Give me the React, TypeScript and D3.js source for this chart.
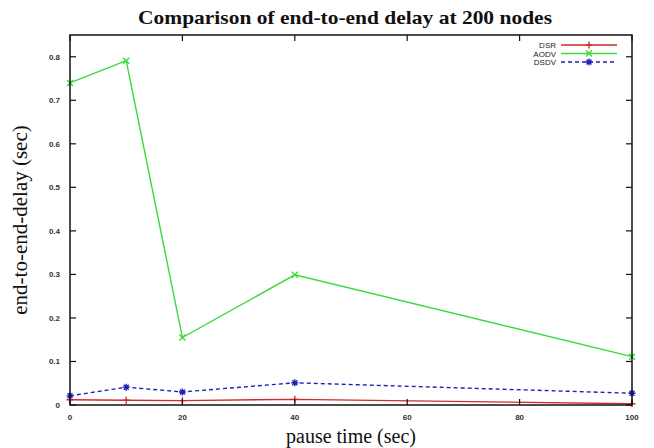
import React from 'react';
import { scaleLinear, line } from 'd3';

// pause times (sec) at which each protocol was measured
const pauseTimes = [0, 10, 20, 40, 100];
const dsrDelay = [0.012, 0.011, 0.01, 0.013, 0.003];
const aodvDelay = [0.74, 0.791, 0.155, 0.299, 0.111];
const dsdvDelay = [0.021, 0.041, 0.03, 0.051, 0.027];

const xTicks = [0, 20, 40, 60, 80, 100];
const yTicks = [0, 0.1, 0.2, 0.3, 0.4, 0.5, 0.6, 0.7, 0.8];
const seriesNames = ['DSR', 'AODV', 'DSDV'];

const width = 654;
const height = 448;
const margin = { top: 35, right: 22, bottom: 43, left: 70 };

const colors = ['#d42a2a', '#3ada3a', '#2222b8'];
const dashes = [null, null, '4,3'];
const markers = [
  'M-3.5,0H3.5M0,-3.5V3.5',
  'M-3,-3L3,3M-3,3L3,-3',
  'M-3.5,0H3.5M0,-3.5V3.5M-2.5,-2.5L2.5,2.5M-2.5,2.5L2.5,-2.5',
];

const App = () => {
  const xScale = scaleLinear()
    .domain([0, 100])
    .range([margin.left, width - margin.right]);
  const yScale = scaleLinear()
    .domain([0, 0.85])
    .range([height - margin.bottom, margin.top]);

  const lineFn = line<number>()
    .x((_, i) => xScale(pauseTimes[i]))
    .y((d) => yScale(d));

  const series = [dsrDelay, aodvDelay, dsdvDelay];
  const x0 = xScale(0);
  const x1 = xScale(100);
  const y0 = yScale(0);
  const y1 = yScale(0.85);
  const tickLen = 6;

  return (
    <svg
      width={width}
      height={height}
      style={{ position: 'absolute', left: 0, top: 0, background: '#fff' }}
    >
      <text
        x={345}
        y={24}
        textAnchor="middle"
        fontFamily="Liberation Serif"
        fontWeight="bold"
        fontSize={19}
        textLength={414}
        lengthAdjust="spacingAndGlyphs"
        fill="#111"
      >
        Comparison of end-to-end delay at 200 nodes
      </text>

      {/* data lines */}
      {series.map((s, k) => (
        <g key={seriesNames[k]}>
          <path
            d={lineFn(s) || ''}
            fill="none"
            stroke={colors[k]}
            strokeWidth={1.4}
            strokeDasharray={dashes[k] || undefined}
          />
          {s.map((v, i) => (
            <path
              key={i}
              d={markers[k]}
              transform={`translate(${xScale(pauseTimes[i])},${yScale(v)})`}
              stroke={colors[k]}
              strokeWidth={1.4}
              fill="none"
            />
          ))}
        </g>
      ))}

      {/* frame */}
      <rect
        x={x0}
        y={y1}
        width={x1 - x0}
        height={y0 - y1}
        fill="none"
        stroke="#111"
        strokeWidth={1.5}
      />

      {/* y ticks */}
      {yTicks.map((t) => (
        <g key={t}>
          <line x1={x0} x2={x0 + tickLen} y1={yScale(t)} y2={yScale(t)} stroke="#111" strokeWidth={1.2} />
          <line x1={x1} x2={x1 - tickLen} y1={yScale(t)} y2={yScale(t)} stroke="#111" strokeWidth={1.2} />
          <text
            x={x0 - 10}
            y={yScale(t) + 3}
            textAnchor="end"
            fontFamily="Liberation Sans"
            fontWeight="bold"
            fontSize={8}
            fill="#333"
          >
            {t === 0 ? '0' : t.toFixed(1)}
          </text>
        </g>
      ))}

      {/* x ticks */}
      {xTicks.map((t) => (
        <g key={t}>
          <line x1={xScale(t)} x2={xScale(t)} y1={y0} y2={y0 - tickLen} stroke="#111" strokeWidth={1.2} />
          <line x1={xScale(t)} x2={xScale(t)} y1={y1} y2={y1 + tickLen} stroke="#111" strokeWidth={1.2} />
          <text
            x={xScale(t)}
            y={y0 + 15}
            textAnchor="middle"
            fontFamily="Liberation Sans"
            fontWeight="bold"
            fontSize={8}
            fill="#333"
          >
            {t}
          </text>
        </g>
      ))}

      {/* axis titles */}
      <text
        x={351}
        y={height - 5}
        textAnchor="middle"
        fontFamily="Liberation Serif"
        fontSize={20}
        fill="#111"
      >
        pause time (sec)
      </text>
      <text
        transform={`translate(27,${(y0 + y1) / 2}) rotate(-90)`}
        textAnchor="middle"
        fontFamily="Liberation Serif"
        fontSize={21}
        fill="#111"
      >
        end-to-end-delay (sec)
      </text>

      {/* legend */}
      {seriesNames.map((name, k) => {
        const ly = 45 + k * 8.5;
        return (
          <g key={name}>
            <text
              x={556}
              y={ly + 3}
              textAnchor="end"
              fontFamily="Liberation Sans"
              fontSize={8}
              fill="#222"
            >
              {name}
            </text>
            <line
              x1={561}
              x2={617}
              y1={ly}
              y2={ly}
              stroke={colors[k]}
              strokeWidth={1.4}
              strokeDasharray={dashes[k] || undefined}
            />
            <path
              d={markers[k]}
              transform={`translate(589,${ly})`}
              stroke={colors[k]}
              strokeWidth={1.4}
              fill="none"
            />
          </g>
        );
      })}
    </svg>
  );
};

export default App;
